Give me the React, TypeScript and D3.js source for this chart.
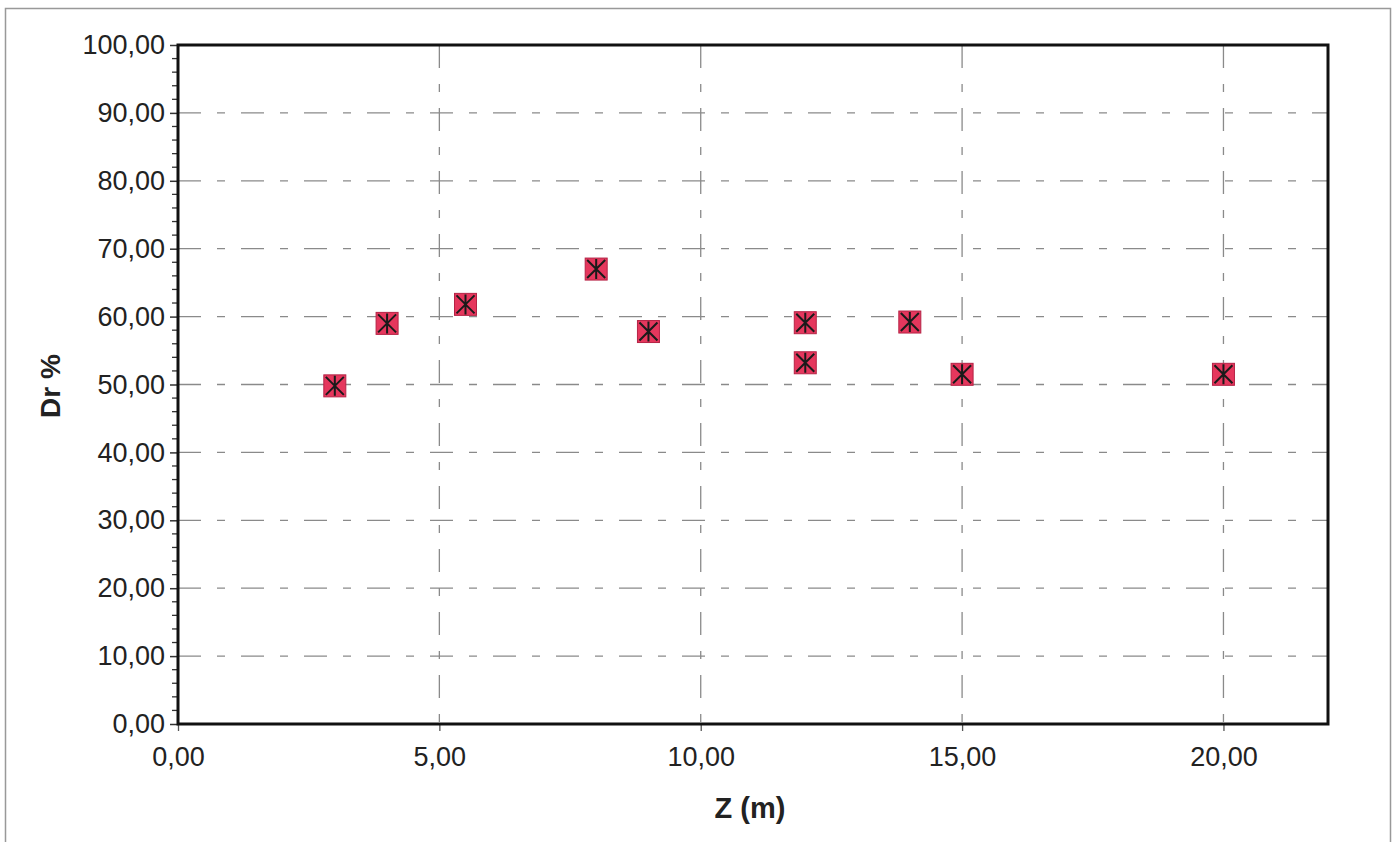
import { useEffect, useRef } from "react";
import * as d3 from "d3";

// depth Z (m) vs relative density Dr (%)
const zValues = [3.0, 4.0, 5.5, 8.0, 9.0, 12.0, 12.0, 14.0, 15.0, 20.0];
const drValues = [49.8, 59.0, 61.8, 67.0, 57.8, 59.1, 53.2, 59.2, 51.5, 51.5];
const xTicks = [0, 5, 10, 15, 20];
const yTicks = [0, 10, 20, 30, 40, 50, 60, 70, 80, 90, 100];

const W = 1394;
const H = 842;

export default function App() {
  const svgRef = useRef<SVGSVGElement>(null);

  useEffect(() => {
    const svg = d3.select(svgRef.current);
    svg.selectAll("*").remove();

    const margin = { top: 45, right: 66, bottom: 118, left: 178 };
    const innerW = W - margin.left - margin.right;
    const innerH = H - margin.top - margin.bottom;
    const font = "Arial, 'Liberation Sans', sans-serif";

    const fmt = d3
      .formatLocale({ decimal: ",", thousands: ".", grouping: [3], currency: ["", ""] })
      .format(".2f");

    const x = d3.scaleLinear().domain([0, 22]).range([0, innerW]);
    const y = d3.scaleLinear().domain([0, 100]).range([innerH, 0]);

    // outer frame
    svg
      .append("rect")
      .attr("x", 5.5)
      .attr("y", 8.5)
      .attr("width", 1385)
      .attr("height", 845)
      .attr("fill", "white")
      .attr("stroke", "#999")
      .attr("stroke-width", 1.5);

    const g = svg.append("g").attr("transform", `translate(${margin.left},${margin.top})`);

    // grid
    g.append("g")
      .selectAll("line")
      .data(yTicks.slice(1, -1))
      .join("line")
      .attr("x1", 0)
      .attr("x2", innerW)
      .attr("y1", (d) => y(d))
      .attr("y2", (d) => y(d))
      .attr("stroke", "#8a8a8a")
      .attr("stroke-width", 1.3)
      .attr("stroke-dasharray", "23,16,8,16");

    g.append("g")
      .selectAll("line")
      .data(xTicks.slice(1))
      .join("line")
      .attr("x1", (d) => x(d))
      .attr("x2", (d) => x(d))
      .attr("y1", 0)
      .attr("y2", innerH)
      .attr("stroke", "#8a8a8a")
      .attr("stroke-width", 1.3)
      .attr("stroke-dasharray", "23,16,8,16");

    // axes
    const yAxis = g
      .append("g")
      .call(d3.axisLeft(y).tickValues(yTicks).tickFormat((d) => fmt(d as number)).tickSize(8).tickPadding(5));
    yAxis.select(".domain").remove();
    yAxis.selectAll("line").attr("stroke", "#333").attr("stroke-width", 1.5);
    yAxis.selectAll("text").attr("font-family", font).attr("font-size", 27).attr("fill", "#222");

    g.append("g")
      .selectAll("line")
      .data(d3.range(0, 100, 2).filter((d) => d % 10 !== 0))
      .join("line")
      .attr("x1", -6)
      .attr("x2", 0)
      .attr("y1", (d) => y(d))
      .attr("y2", (d) => y(d))
      .attr("stroke", "#333")
      .attr("stroke-width", 1.3);

    const xAxis = g
      .append("g")
      .attr("transform", `translate(0,${innerH})`)
      .call(d3.axisBottom(x).tickValues(xTicks).tickFormat((d) => fmt(d as number)).tickSize(7).tickPadding(16));
    xAxis.select(".domain").remove();
    xAxis.selectAll("line").attr("stroke", "#555").attr("stroke-width", 1.3);
    xAxis.selectAll("text").attr("font-family", font).attr("font-size", 27).attr("fill", "#222");

    // plot border
    g.append("rect")
      .attr("width", innerW)
      .attr("height", innerH)
      .attr("fill", "none")
      .attr("stroke", "#111")
      .attr("stroke-width", 3);

    // axis titles
    g.append("text")
      .attr("x", 750 - margin.left)
      .attr("y", 818 - margin.top)
      .attr("text-anchor", "middle")
      .attr("font-family", font)
      .attr("font-weight", "bold")
      .attr("font-size", 29)
      .attr("fill", "#222")
      .text("Z (m)");

    g.append("text")
      .attr("transform", "rotate(-90)")
      .attr("x", -(386 - margin.top))
      .attr("y", 60 - margin.left)
      .attr("text-anchor", "middle")
      .attr("font-family", font)
      .attr("font-weight", "bold")
      .attr("font-size", 28)
      .attr("fill", "#222")
      .text("Dr %");

    // markers: red square with star
    const pts = zValues.map((z, i) => ({ z, dr: drValues[i] }));
    const s = 11;
    const m = g
      .append("g")
      .selectAll("g")
      .data(pts)
      .join("g")
      .attr("transform", (d) => `translate(${x(d.z)},${y(d.dr)})`);
    m.append("rect")
      .attr("x", -s)
      .attr("y", -s)
      .attr("width", 2 * s)
      .attr("height", 2 * s)
      .attr("fill", "#e5375d")
      .attr("stroke", "#b52345")
      .attr("stroke-width", 1);
    m.append("path")
      .attr("d", `M${-s + 2},${-s + 2}L${s - 2},${s - 2}M${s - 2},${-s + 2}L${-s + 2},${s - 2}M0,${-s + 1}L0,${s - 1}`)
      .attr("stroke", "#1a1a1a")
      .attr("stroke-width", 2)
      .attr("fill", "none");
  }, []);

  return (
    <svg
      ref={svgRef}
      width={W}
      height={H}
      style={{ position: "absolute", left: 0, top: 0, background: "white" }}
    />
  );
}
